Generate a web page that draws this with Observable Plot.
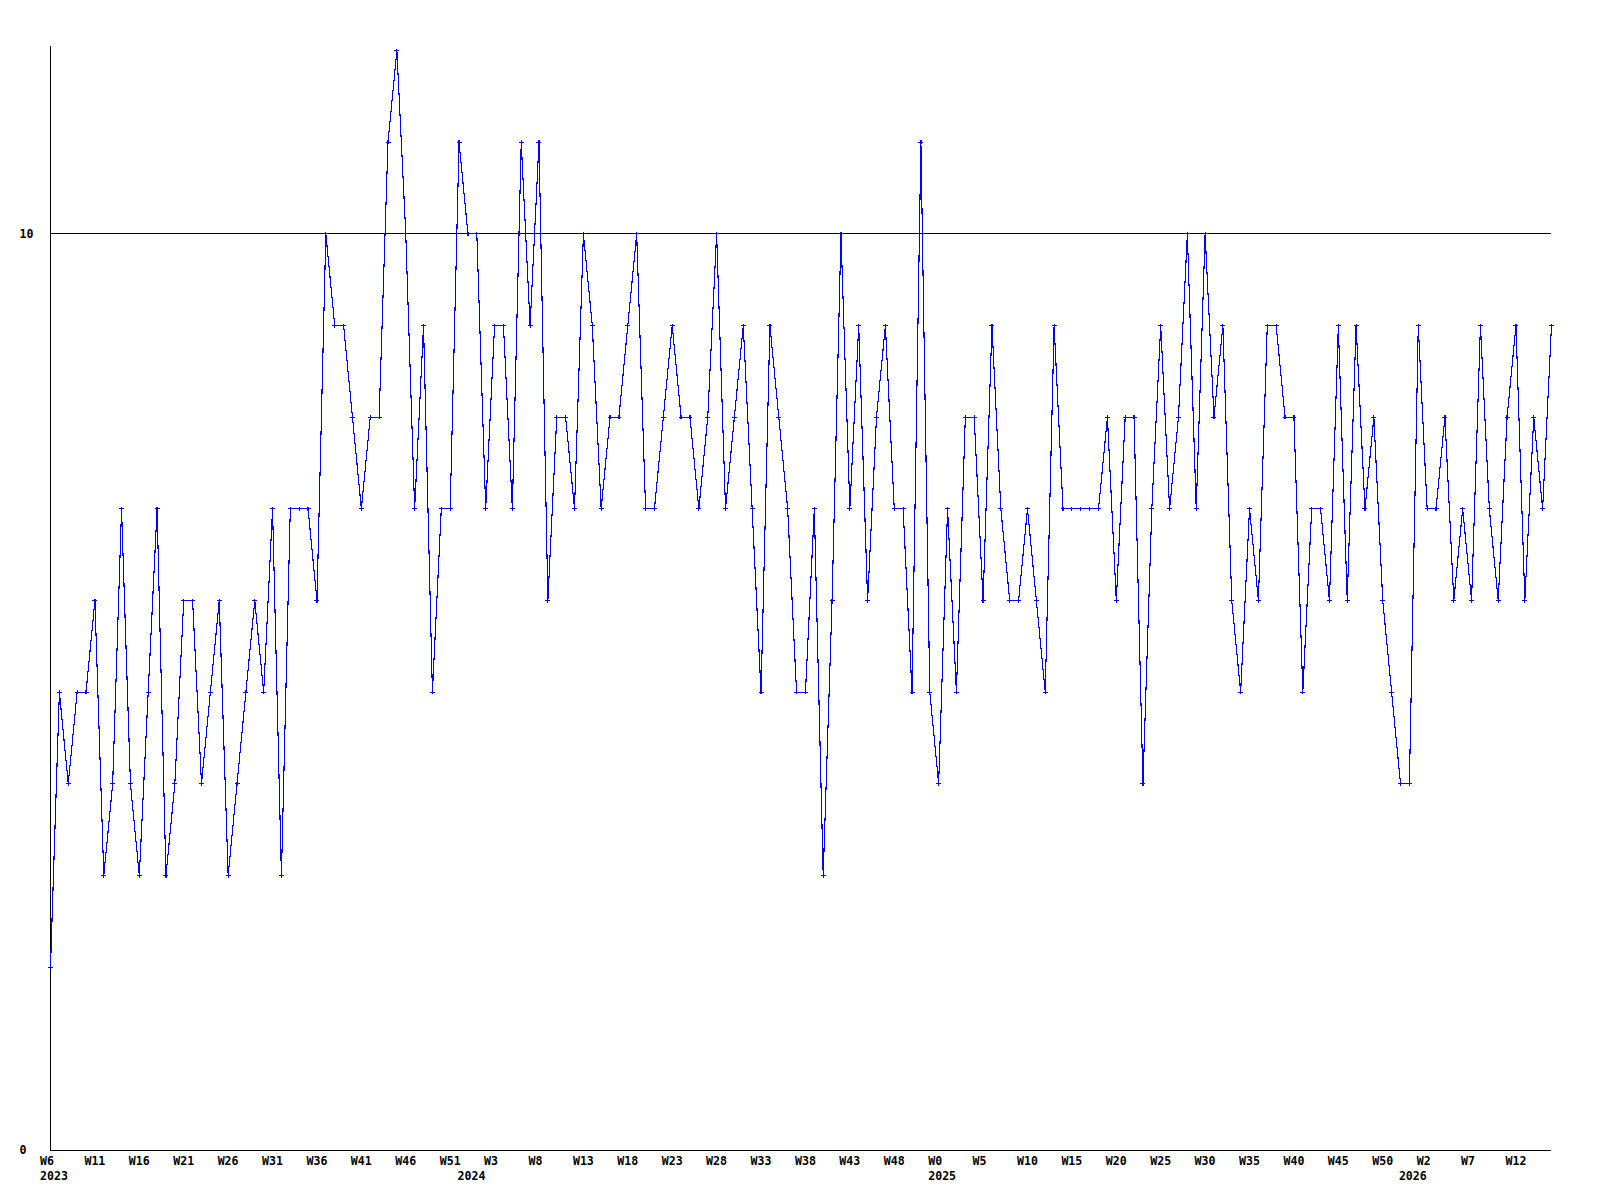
<!DOCTYPE html>
<html>
<head>
<meta charset="utf-8">
<script src="https://cdn.jsdelivr.net/npm/d3@7"></script>
<script src="https://cdn.jsdelivr.net/npm/@observablehq/plot@0.6"></script>
<style>
  html, body { margin: 0; padding: 0; background: #ffffff; }
  #chart svg { display: block; }
</style>
</head>
<body>
<div id="chart"></div>
<script>
// Weekly values, one per week, from 2023 W6 onwards (170 weeks)
const values = [
  2, 5, 4, 5, 5, 6, 3, 4, 7, 4,
  3, 5, 7, 3, 4, 6, 6, 4, 5, 6,
  3, 4, 5, 6, 5, 7, 3, 7, 7, 7,
  6, 10, 9, 9, 8, 7, 8, 8, 11, 12,
  10, 7, 9, 5, 7, 7, 11, 10, 10, 7,
  9, 9, 7, 11, 9, 11, 6, 8, 8, 7,
  10, 9, 7, 8, 8, 9, 10, 7, 7, 8,
  9, 8, 8, 7, 8, 10, 7, 8, 9, 7,
  5, 9, 8, 7, 5, 5, 7, 3, 6, 10,
  7, 9, 6, 8, 9, 7, 7, 5, 11, 5,
  4, 7, 5, 8, 8, 6, 9, 7, 6, 6,
  7, 6, 5, 9, 7, 7, 7, 7, 7, 8,
  6, 8, 8, 4, 7, 9, 7, 8, 10, 7,
  10, 8, 9, 6, 5, 7, 6, 9, 9, 8,
  8, 5, 7, 7, 6, 9, 6, 9, 7, 8,
  6, 5, 4, 4, 9, 7, 7, 8, 6, 7,
  6, 9, 7, 6, 8, 9, 6, 8, 7, 9
];

// Tick labels: one every 5 weeks, starting at the first week
const weekLabels = [
  "W6", "W11", "W16", "W21", "W26", "W31", "W36", "W41", "W46", "W51",
  "W3", "W8", "W13", "W18", "W23", "W28", "W33", "W38", "W43", "W48",
  "W0", "W5", "W10", "W15", "W20", "W25", "W30", "W35", "W40", "W45", "W50",
  "W2", "W7", "W12"
];
const tickEvery = 5;

// Year labels and the week index where each year begins
const yearLabels = ["2023", "2024", "2025", "2026"];
const yearStartWeek = [0, 47, 100, 153];

// Y axis labels and reference line
const yTicks = [0, 10];
const yMax = 12;
const refLine = [10];

const weekTicks = weekLabels.map((label, k) => ({i: k * tickEvery, label}));
const years = yearLabels.map((label, k) => ({i: yearStartWeek[k], label}));
const data = values.map((v, i) => ({i, v}));

const font = {fontFamily: "'DejaVu Sans Mono', 'Liberation Mono', monospace", fontWeight: "bold", fontSize: 11.6, fill: "#000"};

const plus = {
  draw(ctx) {
    ctx.moveTo(-2.5, 0); ctx.lineTo(2.5, 0);
    ctx.moveTo(0, -2); ctx.lineTo(0, 2);
  }
};

const chart = Plot.plot({
  width: 1600,
  height: 1200,
  marginLeft: 50,
  marginRight: 49,
  marginTop: 50,
  marginBottom: 50,
  x: {type: "linear", domain: [0, values.length - 1], axis: null},
  y: {type: "linear", domain: [0, yMax], axis: null},
  style: {background: "#fff"},
  marks: [
    Plot.ruleY(refLine, {stroke: "#000", strokeWidth: 1, shapeRendering: "crispEdges"}),
    Plot.ruleY([0], {stroke: "#000", strokeWidth: 1, shapeRendering: "crispEdges"}),
    Plot.ruleX([0], {stroke: "#000", strokeWidth: 1, insetTop: -4, shapeRendering: "crispEdges"}),
    Plot.line(data, {x: "i", y: "v", stroke: "#0000ff", strokeWidth: 1.1, shapeRendering: "crispEdges"}),
    Plot.dot(data, {x: "i", y: "v", symbol: plus, r: 3, stroke: "#0000ff", strokeWidth: 1.2, fill: "none", shapeRendering: "crispEdges"}),
    Plot.text(yTicks, {y: d => d, text: d => String(d), frameAnchor: "left", textAnchor: "start", dx: -31, ...font}),
    Plot.text(weekTicks, {x: "i", text: "label", frameAnchor: "bottom", textAnchor: "start", dx: -10.5, dy: 14.5, ...font}),
    Plot.text(years, {x: "i", text: "label", frameAnchor: "bottom", textAnchor: "start", dx: -10.5, dy: 29.5, ...font})
  ]
});

document.getElementById("chart").appendChild(chart);
</script>
</body>
</html>
